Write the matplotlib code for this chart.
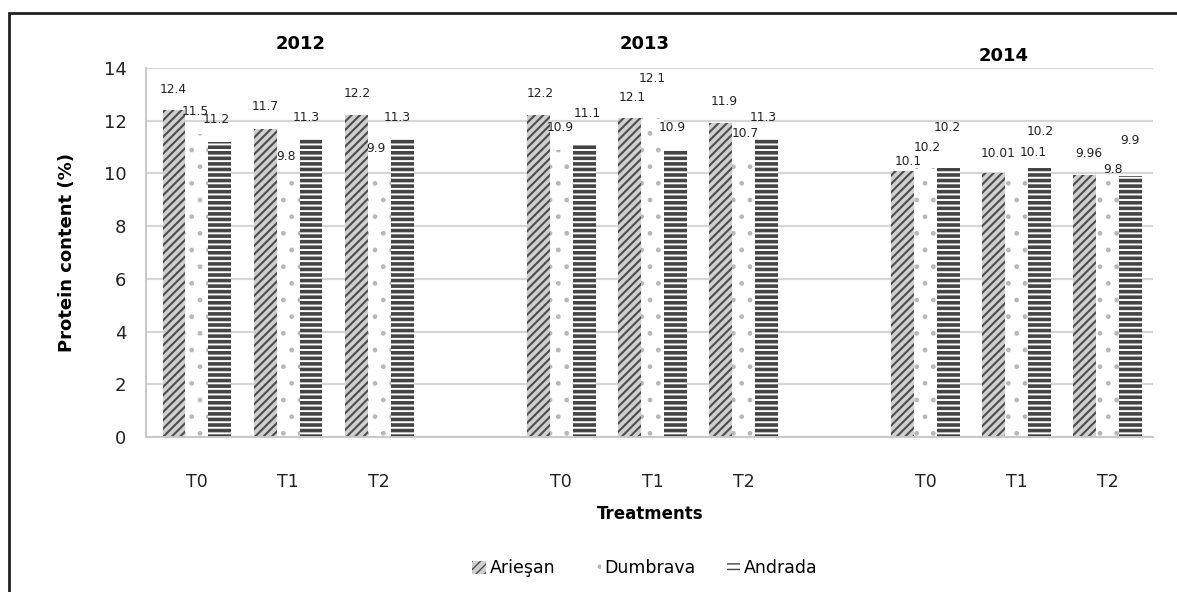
import numpy as np
import matplotlib.pyplot as plt
from matplotlib.patches import Rectangle

plt.rcParams['font.family'] = ['DejaVu Sans']

# protein content per year and treatment
years = ['2012', '2013', '2014']
treatments = ['T0', 'T1', 'T2']
ariesan = [12.4, 11.7, 12.2, 12.2, 12.1, 11.9, 10.1, 10.01, 9.96]
dumbrava = [11.5, 9.8, 9.9, 10.9, 12.1, 10.7, 10.2, 10.1, 9.8]
andrada = [11.2, 11.3, 11.3, 11.1, 10.9, 11.3, 10.2, 10.2, 9.9]
varieties = ['Arieşan', 'Dumbrava', 'Andrada']

# hand placed data labels, pixel offsets (dx, dy) from each bar top
label_shift = [
    [(-1, 21), (0, 22), (1, 22), (2, 22), (3, 21), (4, 22), (5, 9), (4, 20), (4, 21)],
    [(-2, 22), (-2, 22), (-3, 28), (-1, 22), (0, 40), (2, 22), (2, 21), (16, 18), (5, 9)],
    [(-4, 22), (-5, 22), (-5, 22), (3, 31), (-3, 22), (-3, 22), (-1, 41), (0, 37), (-1, 36)],
]

# one empty slot between consecutive years
x = np.array([i * (len(treatments) + 1) + j
              for i in range(len(years)) for j in range(len(treatments))])

fig = plt.figure(figsize=(11.77, 5.92), dpi=100)
ax = fig.add_axes([0.124, 0.262, 0.856, 0.623])

w = 0.252
styles = [
    dict(color='#cfcfcf', edgecolor='#4d4d4d', hatch='////', hlw=1.5),
    dict(color='white', edgecolor='#b8b8b8', hatch='.', hlw=1.0),
    dict(color='white', edgecolor='#444444', hatch='---', hlw=2.6),
]
series = [ariesan, dumbrava, andrada]
for k, (vals, st) in enumerate(zip(series, styles)):
    with plt.rc_context({'hatch.linewidth': st['hlw']}):
        bars = ax.bar(x + (k - 1) * w, vals, w, color=st['color'],
                      edgecolor=st['edgecolor'], hatch=st['hatch'],
                      linewidth=0, label=varieties[k], zorder=2)
    for b, v, (dx, dy) in zip(bars, vals, label_shift[k]):
        ax.annotate(f'{v:g}', (b.get_x() + b.get_width() / 2, v),
                    xytext=(dx, dy), textcoords='offset pixels',
                    ha='center', va='center', fontsize=8.8, color='#222222')

ax.set_xlim(-0.56, x[-1] + 0.5)
ax.set_ylim(0, 14)
ax.set_yticks(np.arange(0, 15, 2))
ax.set_xticks(x)
ax.set_xticklabels(treatments * len(years))
ax.tick_params(axis='x', length=0, pad=26, labelsize=12.5, colors='#222222')
ax.tick_params(axis='y', length=0, pad=14, labelsize=13, colors='#222222')
ax.yaxis.grid(True, color='#d6d6d6', linewidth=1.6, zorder=0)
ax.set_axisbelow(True)
for s in ['top', 'right']:
    ax.spines[s].set_visible(False)
for s in ['left', 'bottom']:
    ax.spines[s].set_color('#c8c8c8')
    ax.spines[s].set_linewidth(1.4)

ax.set_ylabel('Protein content (%)', fontsize=13, fontweight='bold', labelpad=20)
ax.set_xlabel('Treatments', fontsize=12, fontweight='bold', labelpad=10)

# year headings above each group
for name, xt, yt in zip(years, [0.255, 0.548, 0.853], [0.925, 0.925, 0.905]):
    fig.text(xt, yt, name, ha='center', va='center', fontsize=13,
             fontweight='bold')

ax.legend(loc='center', bbox_to_anchor=(0.548, 0.04),
          bbox_transform=fig.transFigure, ncol=3, frameon=False,
          fontsize=12.5, handlelength=0.8, handleheight=0.8,
          handletextpad=0.2, columnspacing=1.8)

# outer frame
fig.patches.append(Rectangle((0.0077, -0.05), 1.1, 1.028,
                             transform=fig.transFigure, fill=False,
                             edgecolor='#222222', linewidth=2))

fig.savefig('out.png', dpi=100)
